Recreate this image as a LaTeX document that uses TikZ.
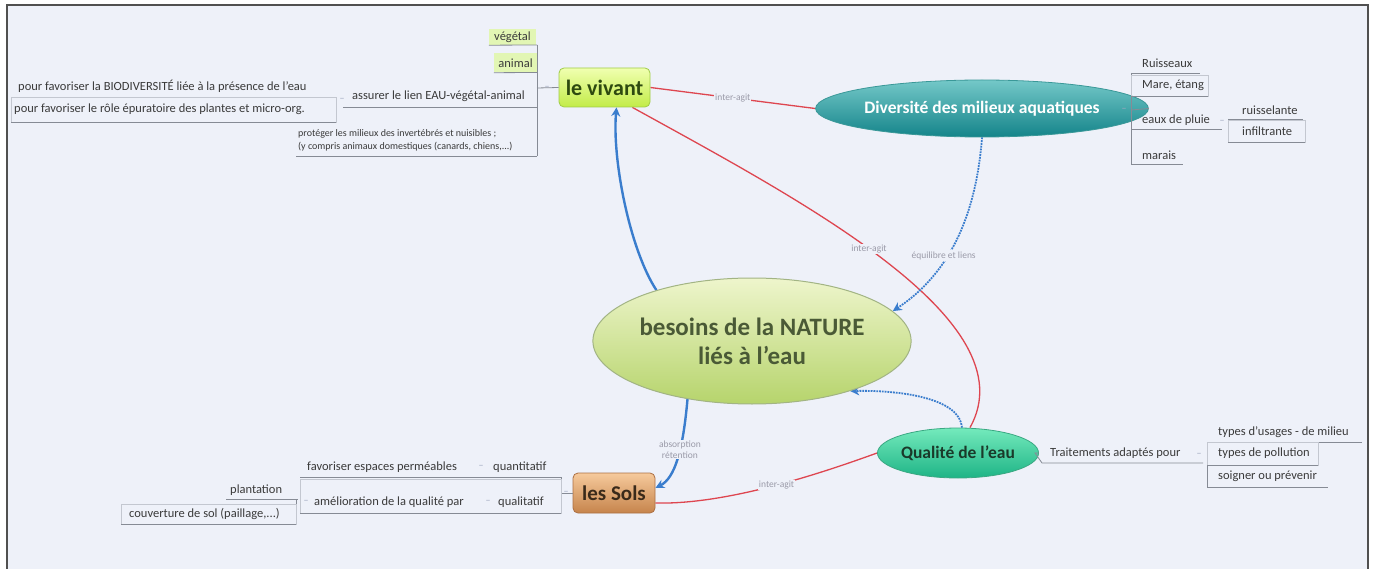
\documentclass[tikz,border=0pt]{standalone}
\usepackage{fontspec}
\setmainfont{Carlito}
\usetikzlibrary{shapes.geometric,arrows.meta,backgrounds}
\definecolor{bgc}{HTML}{EEF1F9}
\definecolor{framec}{HTML}{505050}
\definecolor{txt}{HTML}{3A3A3A}
\definecolor{uline}{HTML}{868B95}
\definecolor{boxline}{HTML}{C3C7D0}
\definecolor{lblc}{HTML}{9A9AA8}
\definecolor{mkc}{HTML}{A0A8C0}
\definecolor{redl}{HTML}{DE4650}
\definecolor{bluel}{HTML}{3A7DCD}
\definecolor{vegc}{HTML}{E2F6B4}
\definecolor{natT}{HTML}{EEF5CC}
\definecolor{natB}{HTML}{B6D46C}
\definecolor{natD}{HTML}{A2B484}
\definecolor{natX}{HTML}{4A5A36}
\definecolor{vivT}{HTML}{F0FFB0}
\definecolor{vivB}{HTML}{C2EC48}
\definecolor{vivD}{HTML}{A0CC48}
\definecolor{vivX}{HTML}{2E4A10}
\definecolor{divT}{HTML}{74C8C8}
\definecolor{divB}{HTML}{14848A}
\definecolor{divD}{HTML}{3A9898}
\definecolor{qulT}{HTML}{74EABC}
\definecolor{qulB}{HTML}{1EB486}
\definecolor{qulD}{HTML}{3AA882}
\definecolor{qulX}{HTML}{1A3A2A}
\definecolor{solT}{HTML}{F6CA9C}
\definecolor{solB}{HTML}{C6844C}
\definecolor{solD}{HTML}{AC7044}
\definecolor{solX}{HTML}{3A2A1A}
\begin{document}
\begin{tikzpicture}[x=1pt,y=-1pt,
 topic/.style={font=\fontsize{12.5}{14}\selectfont, text=txt, inner sep=0pt, anchor=west},
 ul/.style={draw=uline, line width=0.8pt},
 bx/.style={draw=boxline, line width=0.7pt},
 lbl/.style={font=\fontsize{9.5}{10.5}\selectfont, text=lblc, fill=bgc, inner sep=1pt, align=center},
 redc/.style={draw=redl, line width=1.3pt},
 bluec/.style={draw=bluel, line width=2.4pt, -{Stealth[length=9pt,width=9pt]}},
 bluedot/.style={draw=bluel, line width=1.8pt, densely dotted, -{Stealth[length=9pt,width=9pt]}},
 mk/.style={font=\fontsize{10}{10}\selectfont, text=mkc, inner sep=0pt},
 central/.style={ellipse, minimum width=313pt, minimum height=126pt, inner sep=0pt,
   top color=natT, bottom color=natB, draw=natD, line width=1pt,
   font=\bfseries\fontsize{25}{29}\selectfont, text=natX, align=center},
 vivbox/.style={rectangle, rounded corners=5pt, minimum width=91pt, minimum height=39pt, inner sep=0pt,
   top color=vivT, bottom color=vivB, draw=vivD, line width=0.8pt,
   font=\bfseries\fontsize{22}{24}\selectfont, text=vivX},
 divell/.style={ellipse, minimum width=269pt, minimum height=57pt, inner sep=0pt,
   top color=divT, bottom color=divB, draw=divD, line width=0.8pt,
   font=\bfseries\fontsize{17.5}{19}\selectfont, text=white},
 qulell/.style={ellipse, minimum width=137pt, minimum height=50pt, inner sep=0pt,
   top color=qulT, bottom color=qulB, draw=qulD, line width=0.8pt,
   font=\bfseries\fontsize{17.5}{19}\selectfont, text=qulX},
 solbox/.style={rectangle, rounded corners=5pt, minimum width=82pt, minimum height=40pt, inner sep=0pt,
   top color=solT, bottom color=solB, draw=solD, line width=0.8pt,
   font=\bfseries\fontsize{21}{23}\selectfont, text=solX},
]
\useasboundingbox (0,0) rectangle (1375,569);

% main nodes
\node[central] (nat) at (752,341) {besoins de la NATURE\\liés à l’eau};
\node[vivbox] (viv) at (604.5,87.5) {le vivant};
\node[divell] (div) at (982,108.5) {Diversité des milieux aquatiques};
\node[qulell] (qual) at (958,453) {Qualité de l’eau};
\node[solbox] (sols) at (614,493) {les Sols};

% ---------- le vivant subtopics ----------
\node[topic, anchor=center, fill=vegc, minimum width=47pt, minimum height=16pt] (veg) at (512.5,37) {végétal};
\draw[ul] (veg.south west) -- (537,45);
\node[topic, anchor=center, fill=vegc, minimum width=43pt, minimum height=19pt] (ani) at (515.5,63) {animal};
\draw[ul] (ani.south west) -- (537,72.5);
\node[topic] (ass) at (352,96) {assurer le lien EAU-végétal-animal};
\draw[ul] (343,107) -- (537,107);
\node[topic, font=\fontsize{10}{13}\selectfont, align=left] (pro) at (298,140) {protéger les milieux des invertébrés et nuisibles ;\\(y compris animaux domestiques (canards, chiens,...)};
\draw[ul] (296,156) -- (537,156);
\draw[ul] (537,45) -- (537,156);
\draw[ul] (537,88) -- (viv.west);
\node[mk] (m1) at (547,88) {–};

\node[topic] (bio) at (18,86) {pour favoriser la BIODIVERSITÉ liée à la présence de l’eau};
\draw[ul] (11,97) -- (336,97);
\draw[bx] (11,97) rectangle (336,122);
\node[topic] (epu) at (14,109) {pour favoriser le rôle épuratoire des plantes et micro-org.};
\draw[ul] (11,122) -- (336,122);
\node[mk] (m2) at (342,100) {–};

% ---------- Diversité subtopics ----------
\draw[ul] (div.east) -- (1131,110);
\node[mk] (m3) at (1124,110) {–};
\draw[ul] (1131,73) -- (1131,164);
\node[topic] (rui) at (1142,63) {Ruisseaux};
\draw[ul] (1131,73) -- (1200,73);
\draw[bx] (1131,75) rectangle (1208,96);
\node[topic] (mar) at (1142,85) {Mare, étang};
\draw[ul] (1131,96) -- (1208,96);
\node[topic] (eau) at (1142,120) {eaux de pluie};
\draw[ul] (1131,129) -- (1222,129);
\node[mk] (m4) at (1222,122) {–};
\draw[ul] (1228,119) -- (1228,142);
\node[topic] (ruis) at (1242,110) {ruisselante};
\draw[ul] (1228,119) -- (1303,119);
\draw[bx] (1228,120) rectangle (1305,142);
\node[topic] (inf) at (1242,131) {infiltrante};
\draw[ul] (1228,142) -- (1305,142);
\node[topic] (mara) at (1142,155) {marais};
\draw[ul] (1131,164) -- (1183,164);

% ---------- Qualité subtopics ----------
\draw[ul] (qual.east) -- (1035,453) -- (1042,463) -- (1203,463);
\node[topic] (trait) at (1050,453) {Traitements adaptés pour};
\node[mk] (m5) at (1199,455) {–};
\draw[ul] (1207,442) -- (1207,487);
\node[topic] (typ1) at (1218,432) {types d’usages - de milieu};
\draw[ul] (1207,442) -- (1362,442);
\draw[bx] (1207,442) rectangle (1318,465);
\node[topic] (typ2) at (1218,453) {types de pollution};
\draw[ul] (1207,465) -- (1318,465);
\node[topic] (typ3) at (1218,476) {soigner ou prévenir};
\draw[ul] (1207,487) -- (1328,487);

% ---------- Sols subtopics ----------
\draw[ul] (561,493) -- (sols.west);
\node[mk] (m6) at (566,493) {–};
\draw[ul] (561,477) -- (561,513);
\node[topic] (fav) at (307,467) {favoriser espaces perméables};
\node[mk] (m7) at (481,467) {–};
\node[topic] (qua) at (493,467) {quantitatif};
\draw[ul] (300,477) -- (561,477);
\draw[bx] (300,479) rectangle (561,513);
\node[mk] (m8) at (306,502) {–};
\node[topic] (ame) at (314,502) {amélioration de la qualité par};
\node[mk] (m9) at (488,502) {–};
\node[topic] (ql) at (498,502) {qualitatif};
\draw[ul] (300,513) -- (561,513);
\node[topic] (pla) at (230,490) {plantation};
\draw[ul] (226,499) -- (298,499);
\draw[ul] (296,499) -- (296,524);
\draw[bx] (121,504) rectangle (296,524);
\node[topic] (cou) at (129,514) {couverture de sol (paillage,...)};
\draw[ul] (121,524) -- (296,524);

% ---------- background and connectors ----------
\begin{pgfonlayer}{background}
\fill[white] (0,0) rectangle (1375,569);
\fill[bgc] (7,5) rectangle (1368,569);
\draw[framec, line width=1.3pt] (7,569) -- (7,5) -- (1368,5) -- (1368,569);

\draw[redc] (viv.east) -- node[lbl, pos=0.5] {inter-agit} (div.west);
\draw[redc] ([xshift=-18pt]viv.south east) .. controls (800,200) and (1030,320) .. node[lbl, pos=0.46] {inter-agit} ([xshift=12pt]qual.north);
\draw[redc] ([yshift=-10pt]sols.east) .. controls (730,505) and (830,470) .. node[lbl, pos=0.5] {inter-agit} (qual.west);

\draw[bluec] (nat.152) .. controls (630,250) and (612,160) .. ([xshift=12pt]viv.south);
\draw[bluedot] (div.south) .. controls (975,230) and (940,280) .. node[lbl, pos=0.55, xshift=-4pt] {équilibre et liens} (nat.12);
\draw[bluedot] ([xshift=4pt]qual.north) .. controls (960,398) and (900,390) .. (nat.-27);
\draw[bluec] (nat.222) .. controls (683,450) and (675,478) .. node[lbl, pos=0.4] {absorption\\rétention} ([yshift=5pt]sols.east);
\end{pgfonlayer}
\end{tikzpicture}
\end{document}
